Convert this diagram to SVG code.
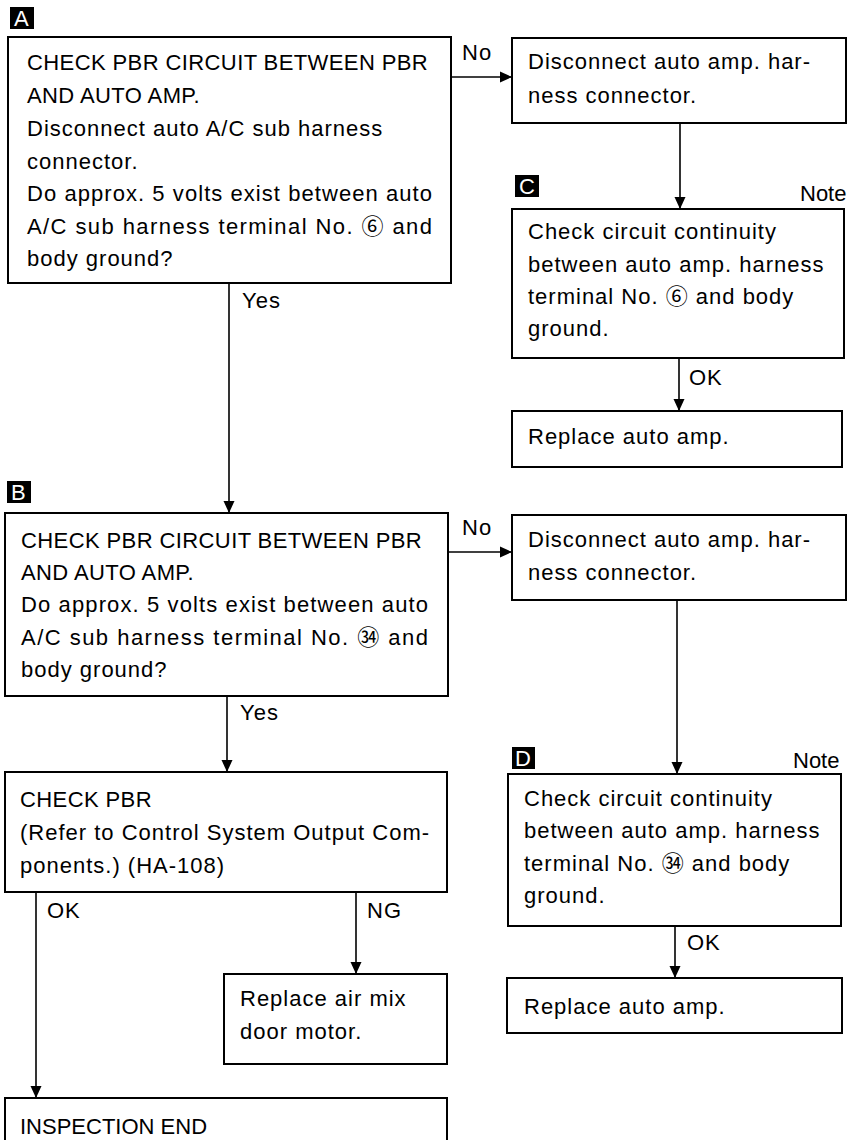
<svg xmlns="http://www.w3.org/2000/svg" width="857" height="1140" viewBox="0 0 857 1140">
<defs>
<marker id="ah" markerWidth="12" markerHeight="14" refX="12" refY="7" orient="auto" markerUnits="userSpaceOnUse">
<path d="M0,1.5 L12,7 L0,12.5 Z" fill="#000"/>
</marker>
<style>
.box{fill:#fff;stroke:#000;stroke-width:2}
.t{font-family:"Liberation Sans","Noto Sans CJK JP",sans-serif;font-size:22px;letter-spacing:1px;fill:#000}
.u{letter-spacing:0.4px}
.n{letter-spacing:0px}
.lbl{font-family:"Liberation Sans",sans-serif;font-size:22px;fill:#fff}
.c{fill:none;stroke:#000;stroke-width:1.6}
.tag{fill:#000}
</style>
</defs>
<rect width="857" height="1140" fill="#fff"/>

<g id="connectors">
<line class="c" x1="451" y1="77" x2="512" y2="77" marker-end="url(#ah)"/>
<text class="t" x="462" y="60">No</text>
<line class="c" x1="680" y1="123" x2="680" y2="209" marker-end="url(#ah)"/>
<line class="c" x1="679" y1="358" x2="679" y2="411" marker-end="url(#ah)"/>
<text class="t" x="689" y="385">OK</text>
<line class="c" x1="229" y1="283" x2="229" y2="513" marker-end="url(#ah)"/>
<text class="t" x="242" y="308">Yes</text>
<line class="c" x1="448" y1="552" x2="512" y2="552" marker-end="url(#ah)"/>
<text class="t" x="462" y="535">No</text>
<line class="c" x1="677" y1="600" x2="677" y2="774" marker-end="url(#ah)"/>
<line class="c" x1="675" y1="926" x2="675" y2="978" marker-end="url(#ah)"/>
<text class="t" x="687" y="950">OK</text>
<line class="c" x1="227" y1="696" x2="227" y2="772" marker-end="url(#ah)"/>
<text class="t" x="240" y="720">Yes</text>
<line class="c" x1="36" y1="892" x2="36" y2="1098" marker-end="url(#ah)"/>
<text class="t" x="47" y="918">OK</text>
<line class="c" x1="356" y1="892" x2="356" y2="974" marker-end="url(#ah)"/>
<text class="t" x="367" y="918">NG</text>
</g>

<g id="nodeA">
<rect class="tag" x="10" y="7" width="24" height="22"/>
<text class="lbl" x="14" y="26">A</text>
<rect class="box" x="8" y="37" width="443" height="246"/>
<text class="t u" x="27" y="70">CHECK PBR CIRCUIT BETWEEN PBR</text>
<text class="t u" x="27" y="103">AND AUTO AMP.</text>
<text class="t" x="27" y="136">Disconnect auto A/C sub harness</text>
<text class="t" x="27" y="169">connector.</text>
<text class="t" x="27" y="201" textLength="406">Do approx. 5 volts exist between auto</text>
<text class="t" x="27" y="234" textLength="406">A/C sub harness terminal No. ⑥ and</text>
<text class="t" x="27" y="266">body ground?</text>
</g>

<g id="nodeA-no">
<rect class="box" x="512" y="38" width="334" height="85"/>
<text class="t" x="528" y="69">Disconnect auto amp. har-</text>
<text class="t" x="528" y="103">ness connector.</text>
</g>

<g id="nodeC">
<rect class="tag" x="515" y="175" width="24" height="22"/>
<text class="lbl" x="519" y="194">C</text>
<text class="t n" x="800" y="201">Note</text>
<rect class="box" x="512" y="209" width="332" height="149"/>
<text class="t" x="528" y="239">Check circuit continuity</text>
<text class="t" x="528" y="272">between auto amp. harness</text>
<text class="t" x="528" y="304">terminal No. ⑥ and body</text>
<text class="t" x="528" y="336">ground.</text>
</g>

<g id="nodeC-ok">
<rect class="box" x="512" y="411" width="330" height="56"/>
<text class="t" x="528" y="444">Replace auto amp.</text>
</g>

<g id="nodeB">
<rect class="tag" x="7" y="481" width="24" height="22"/>
<text class="lbl" x="11" y="500">B</text>
<rect class="box" x="5" y="513" width="443" height="183"/>
<text class="t u" x="21" y="548">CHECK PBR CIRCUIT BETWEEN PBR</text>
<text class="t u" x="21" y="580">AND AUTO AMP.</text>
<text class="t" x="21" y="612" textLength="408">Do approx. 5 volts exist between auto</text>
<text class="t" x="21" y="645" textLength="408">A/C sub harness terminal No. ㉞ and</text>
<text class="t" x="21" y="677">body ground?</text>
</g>

<g id="nodeB-no">
<rect class="box" x="512" y="515" width="334" height="85"/>
<text class="t" x="528" y="547">Disconnect auto amp. har-</text>
<text class="t" x="528" y="580">ness connector.</text>
</g>

<g id="nodeD">
<rect class="tag" x="512" y="747" width="23" height="22"/>
<text class="lbl" x="515" y="766">D</text>
<text class="t n" x="793" y="768">Note</text>
<rect class="box" x="508" y="774" width="333" height="152"/>
<text class="t" x="524" y="806">Check circuit continuity</text>
<text class="t" x="524" y="838">between auto amp. harness</text>
<text class="t" x="524" y="871">terminal No. ㉞ and body</text>
<text class="t" x="524" y="903">ground.</text>
</g>

<g id="nodeD-ok">
<rect class="box" x="507" y="978" width="335" height="55"/>
<text class="t" x="524" y="1014">Replace auto amp.</text>
</g>

<g id="nodeCheckPBR">
<rect class="box" x="5" y="772" width="442" height="120"/>
<text class="t u" x="20" y="807">CHECK PBR</text>
<text class="t" x="20" y="840">(Refer to Control System Output Com-</text>
<text class="t" x="20" y="873">ponents.) (HA-108)</text>
</g>

<g id="nodeReplaceMix">
<rect class="box" x="224" y="974" width="223" height="90"/>
<text class="t" x="240" y="1006">Replace air mix</text>
<text class="t" x="240" y="1039">door motor.</text>
</g>

<g id="nodeEnd">
<rect class="box" x="5" y="1098" width="442" height="60"/>
<text class="t n" x="20" y="1134">INSPECTION END</text>
</g>
</svg>
